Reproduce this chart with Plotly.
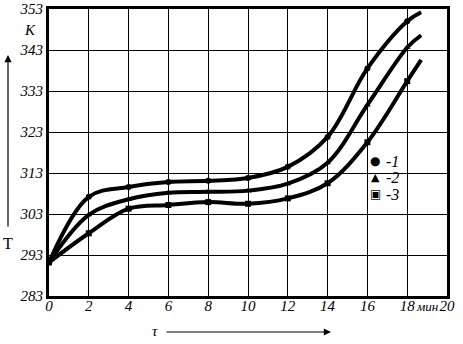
import plotly.graph_objects as go

tau = [0, 2, 4, 6, 8, 10, 12, 14, 16, 18, 18.7]
T1 = [291.2, 307.2, 309.6, 310.8, 311.1, 311.8, 314.5, 321.8, 338.5, 350.0, 352.2]
T2 = [291.2, 302.8, 306.6, 308.2, 308.4, 308.7, 310.4, 315.5, 329.6, 343.6, 346.6]
T3 = [291.2, 298.3, 304.3, 305.2, 305.9, 305.5, 306.8, 310.5, 320.5, 335.4, 340.6]
series_names = ["-1", "-2", "-3"]
legend_glyphs = ["●", "▲", "▣"]
symbols = ["circle", "triangle-up", "square"]
x_ticks = [0, 2, 4, 6, 8, 10, 12, 14, 16, 18, 20]
y_ticks = [283, 293, 303, 313, 323, 333, 343, 353]

FONT = "Liberation Serif, Times New Roman, serif"
fig = go.Figure()
for ys, nm, sym in zip([T1, T2, T3], series_names, symbols):
    fig.add_trace(go.Scatter(x=tau, y=ys, mode="lines", name=nm,
                             line=dict(color="black", width=4, shape="spline", smoothing=1.0),
                             showlegend=False, hoverinfo="skip"))
    fig.add_trace(go.Scatter(x=tau[:-1], y=ys[:-1], mode="markers", name=nm,
                             marker=dict(symbol=sym, size=6, color="black"),
                             showlegend=False))

fig.update_layout(
    width=463, height=344,
    margin=dict(l=49, r=16, t=9, b=48, autoexpand=False),
    paper_bgcolor="white", plot_bgcolor="white",
    font=dict(family=FONT, size=15, color="black"),
    showlegend=False,
    xaxis=dict(range=[0, 20], tickvals=x_ticks, ticktext=[str(v) for v in x_ticks],
               showgrid=True, gridcolor="black", gridwidth=1, automargin=False,
               showline=True, linecolor="black", linewidth=3, mirror=True,
               ticks="", zeroline=False, ticklabelstandoff=-6,
               tickfont=dict(family=FONT, size=15, style="italic")),
    yaxis=dict(range=[283, 353], tickvals=y_ticks, automargin=False,
               showgrid=True, gridcolor="black", gridwidth=1,
               showline=True, linecolor="black", linewidth=3, mirror=True,
               ticks="", zeroline=False,
               tickfont=dict(family=FONT, size=15, style="italic")),
)

def px2paper(px, py):
    return (px - 49) / 398.0, (296 - py) / 287.0

def text_at(px, py, text, size=15, style="italic", xanchor="center", family=FONT):
    ax_, ay_ = px2paper(px, py)
    fig.add_annotation(x=ax_, y=ay_, xref="paper", yref="paper", text=text, showarrow=False,
                       xanchor=xanchor, yanchor="middle",
                       font=dict(family=family, size=size, style=style))

# unit label "мин"
text_at(427, 306, "мин", size=13)
text_at(30, 30, "K", size=15)
text_at(8, 243, "T", size=16, style="normal")
text_at(155, 331, "τ", size=15)

# legend as text
for i, (g, nm) in enumerate(zip(legend_glyphs, series_names)):
    ypx = [161, 177, 194][i]
    text_at(375, ypx, g, size=[12, 11, 12][i], style="normal", family="DejaVu Sans")
    text_at(384, ypx, nm, size=16, xanchor="left")

# arrows
hx, hy = px2paper(8, 55)
fig.add_annotation(x=hx, y=hy, xref="paper", yref="paper", text="", showarrow=True,
                   ax=0, ay=173, arrowhead=2, arrowsize=1.2, arrowwidth=1.2, arrowcolor="black")
hx2, hy2 = px2paper(331, 332)
fig.add_annotation(x=hx2, y=hy2, xref="paper", yref="paper", text="", showarrow=True,
                   ax=-166, ay=0, arrowhead=2, arrowsize=1.2, arrowwidth=1.2, arrowcolor="black")

fig.write_html("out.html", config={"displayModeBar": False},
               post_script="document.body.style.margin='0';document.body.style.overflow='hidden';")
